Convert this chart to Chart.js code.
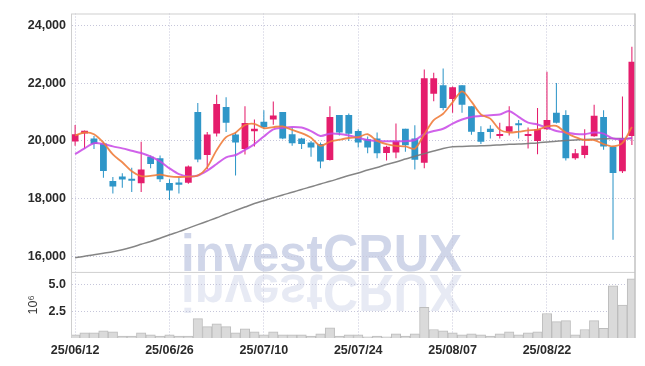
<!DOCTYPE html>
<html>
<head>
<meta charset="utf-8">
<script src="https://cdn.jsdelivr.net/npm/chart.js@4/dist/chart.umd.min.js"></script>
<style>
    html, body { margin: 0; padding: 0; background: #fff; }
    #wrap { width: 645px; height: 366px; position: relative; }
</style>
</head>
<body>
<div id="wrap"><canvas id="stockChart"></canvas></div>
<script>
// Trading days (yy/mm/dd)
const dates = [
    '25/06/12', '25/06/13', '25/06/16', '25/06/17', '25/06/18', '25/06/19', '25/06/20', '25/06/23', '25/06/24', '25/06/25',
    '25/06/26', '25/06/27', '25/06/30', '25/07/01', '25/07/02', '25/07/03', '25/07/04', '25/07/07', '25/07/08', '25/07/09',
    '25/07/10', '25/07/11', '25/07/14', '25/07/15', '25/07/16', '25/07/17', '25/07/18', '25/07/21', '25/07/22', '25/07/23',
    '25/07/24', '25/07/25', '25/07/28', '25/07/29', '25/07/30', '25/07/31', '25/08/01', '25/08/04', '25/08/05', '25/08/06',
    '25/08/07', '25/08/08', '25/08/11', '25/08/12', '25/08/13', '25/08/14', '25/08/18', '25/08/19', '25/08/20', '25/08/21',
    '25/08/22', '25/08/25', '25/08/26', '25/08/27', '25/08/28', '25/08/29', '25/09/01', '25/09/02', '25/09/03', '25/09/04'
];

// OHLC prices
const openP = [
    19980, 20260, 20080, 19910, 18610, 18770, 18690, 18530, 19450, 19400,
    18540, 18560, 18550, 21000, 19510, 20260, 21170, 20220, 19720, 20330,
    20660, 20740, 21000, 20230, 20080, 19940, 19890, 19340, 20900, 20900,
    20340, 20060, 20080, 19580, 19600, 20420, 20080, 19240, 21630, 21930,
    21450, 21930, 21200, 20310, 20420, 20170, 20320, 20570, 20170, 20000,
    20400, 20970, 20900, 19400, 19510, 20160, 20830, 19800, 18950, 20170
];
const highP = [
    20550, 20360, 20170, 19970, 18750, 18880, 19070, 19970, 19490, 19490,
    18670, 18750, 19150, 21310, 20310, 21600, 21510, 20310, 21200, 20740,
    21060, 21360, 21000, 20460, 20110, 20000, 19940, 21200, 20900, 20950,
    20400, 20150, 20290, 19830, 20600, 20420, 20540, 22470, 22360, 22510,
    21880, 21930, 21200, 20510, 20540, 20630, 21200, 20720, 20460, 21140,
    22390, 22000, 21060, 19720, 20400, 21250, 21060, 19830, 21540, 23260
];
const lowP = [
    19830, 19740, 19720, 18720, 18180, 18380, 18230, 18230, 19050, 18580,
    17950, 18180, 18520, 19260, 19030, 20150, 20310, 18800, 19530, 19810,
    20400, 20560, 20060, 19830, 19720, 19450, 19050, 19320, 20190, 20000,
    19770, 19570, 19400, 19320, 19400, 19620, 19010, 19050, 21370, 21060,
    20970, 20970, 20210, 19890, 20080, 20080, 20190, 20080, 19740, 19540,
    20380, 20600, 19320, 19350, 19400, 20140, 19690, 16580, 18890, 19860
];
const closeP = [
    20230, 20350, 19890, 18960, 18420, 18660, 18620, 19010, 19200, 18670,
    18280, 18480, 19110, 19360, 20220, 21280, 20630, 19940, 20620, 20420,
    20480, 20880, 20080, 19920, 19890, 19770, 19290, 20830, 20290, 20250,
    19940, 19770, 19570, 19800, 20000, 19850, 19350, 22170, 22170, 21140,
    21860, 21250, 20320, 19970, 20310, 20230, 20510, 20540, 20230, 20400,
    20720, 20630, 19400, 19570, 19830, 20870, 19810, 18890, 20090, 22740
];

// Moving averages
const ma5 = [
    20190, 20290, 20230, 19940, 19530, 19260, 18950, 18780, 18790, 18830,
    18770, 18750, 18760, 18800, 19090, 19680, 20130, 20285, 20550, 20590,
    20440, 20480, 20500, 20380, 20270, 20110, 19830, 19970, 20040, 20100,
    20130, 20230, 20000, 19890, 19830, 19810, 19730, 20230, 20720, 20940,
    21335, 21715, 21360, 20920, 20770, 20390, 20290, 20320, 20365, 20390,
    20500, 20520, 20280, 20130, 20030, 20030, 19890, 19810, 19930, 20480
];
const ma20 = [
    19540, 19740, 19920, 19890, 19810, 19740, 19660, 19580, 19460, 19290,
    19050, 18850, 18770, 18800, 18970, 19200, 19430, 19510, 19690, 19890,
    20150, 20400, 20450, 20480, 20460, 20340, 20170, 20250, 20240, 20190,
    20110, 20030, 20000, 19990, 19990, 19990, 20030, 20230, 20340, 20420,
    20600, 20740, 20830, 20860, 20890, 20910, 21030, 20830, 20630, 20570,
    20460, 20340, 20290, 20240, 20230, 20290, 20250, 20080, 20060, 20100
];
const maLong = [
    15950, 16010, 16060, 16110, 16160, 16230, 16320, 16420, 16520, 16630,
    16750, 16860, 16980, 17100, 17220, 17340, 17470, 17590, 17710, 17830,
    17930, 18030, 18130, 18220, 18320, 18410, 18510, 18600, 18700, 18800,
    18890, 18990, 19080, 19180, 19270, 19370, 19470, 19560, 19650, 19740,
    19800, 19810, 19820, 19830, 19840, 19860, 19880, 19890, 19910, 19930,
    19960, 19990, 20010, 20030, 20050, 20060, 20070, 20080, 20080, 20090
];

// Volume (millions of shares)
const volume = [
    0.29, 0.48, 0.48, 0.67, 0.58, 0.19, 0.19, 0.48, 0.29, 0.19,
    0.29, 0.19, 0.19, 1.82, 1.06, 1.34, 1.06, 0.48, 0.86, 0.58,
    0.29, 0.58, 0.29, 0.29, 0.29, 0.19, 0.38, 0.96, 0.19, 0.29,
    0.29, 0.10, 0.19, 0.10, 0.38, 0.19, 0.38, 2.88, 0.80, 0.67,
    0.48, 0.29, 0.38, 0.29, 0.19, 0.38, 0.58, 0.29, 0.48, 0.58,
    2.30, 1.54, 1.63, 0.29, 0.80, 1.63, 0.90, 4.90, 3.10, 5.55
];

const priceTicks = [16000, 18000, 20000, 22000, 24000];
const volumeTicks = [2.5, 5.0];
const dateTickIdx = [0, 10, 20, 30, 40, 50];

const UP = '#e51d6c';
const DOWN = '#2f96c8';
const GRID = '#c6c6da';
const FRAME = '#cfcfcf';

Chart.defaults.font.family = '"Liberation Sans", Arial, sans-serif';
Chart.defaults.font.size = 12.5;
Chart.defaults.font.weight = 'bold';
Chart.defaults.color = '#2a2a2a';

const candleColor = ctx => closeP[ctx.dataIndex] >= openP[ctx.dataIndex] ? UP : DOWN;

// Watermark with reflection, drawn under the grid
const watermark = {
    id: 'watermark',
    beforeDraw(chart) {
        const ctx = chart.ctx;
        ctx.save();
        ctx.font = 'bold 52px "Liberation Sans", Arial, sans-serif';
        ctx.textBaseline = 'alphabetic';
        ctx.fillStyle = '#d0d6e9';
        ctx.fillText('investCRUX', 181, 271, 281);
        ctx.translate(0, 546);
        ctx.scale(1, -1);
        ctx.globalAlpha = 0.5;
        ctx.fillText('investCRUX', 181, 271, 281);
        ctx.restore();
    }
};

// Panel frame lines
const frame = {
    id: 'frame',
    afterDraw(chart) {
        const {ctx, chartArea} = chart;
        const sep = chart.scales.yVol.top;
        ctx.save();
        ctx.strokeStyle = FRAME;
        ctx.lineWidth = 1;
        ctx.beginPath();
        ctx.moveTo(chartArea.left, chartArea.top + 0.5);
        ctx.lineTo(chartArea.right, chartArea.top + 0.5);
        ctx.moveTo(chartArea.left, sep + 0.5);
        ctx.lineTo(chartArea.right, sep + 0.5);
        ctx.moveTo(chartArea.left - 0.5, chartArea.top);
        ctx.lineTo(chartArea.left - 0.5, chartArea.bottom);
        ctx.stroke();
        ctx.strokeStyle = '#c2c2c2';
        ctx.lineWidth = 1.5;
        ctx.beginPath();
        ctx.moveTo(chartArea.right, chartArea.top);
        ctx.lineTo(chartArea.right, chartArea.bottom);
        ctx.stroke();
        ctx.restore();
    }
};

const xy = arr => arr.map((v, i) => ({x: i, y: v}));

new Chart(document.getElementById('stockChart'), {
    type: 'bar',
    data: {
        datasets: [
            {
                type: 'line', label: 'MA5', data: xy(ma5), yAxisID: 'y', order: 0,
                borderColor: 'rgba(240,125,60,0.9)', borderWidth: 1.8, pointRadius: 0, tension: 0.3
            },
            {
                type: 'line', label: 'MA20', data: xy(ma20), yAxisID: 'y', order: 0,
                borderColor: 'rgba(200,70,230,0.85)', borderWidth: 2, pointRadius: 0, tension: 0.3
            },
            {
                type: 'line', label: 'MA60', data: xy(maLong), yAxisID: 'y', order: 0,
                borderColor: 'rgba(120,120,120,0.9)', borderWidth: 1.5, pointRadius: 0, tension: 0.3
            },
            {
                label: 'Body', data: openP.map((o, i) => ({x: i, y: [o, closeP[i]]})), yAxisID: 'y', order: 1,
                backgroundColor: candleColor, grouped: false, categoryPercentage: 1, barPercentage: 0.72, minBarLength: 2
            },
            {
                label: 'Wick', data: lowP.map((l, i) => ({x: i, y: [l, highP[i]]})), yAxisID: 'y', order: 2,
                backgroundColor: candleColor, grouped: false, categoryPercentage: 1, barPercentage: 0.11
            },
            {
                label: 'Volume', data: xy(volume), yAxisID: 'yVol', order: 3,
                backgroundColor: '#dadada', borderColor: '#bdbdbd', borderWidth: 1,
                grouped: false, categoryPercentage: 1, barPercentage: 1
            }
        ]
    },
    options: {
        responsive: true,
        maintainAspectRatio: false,
        animation: false,
        layout: { padding: { top: 9, right: 10, left: 12, bottom: 0 } },
        plugins: {
            legend: { display: false },
            tooltip: { enabled: false }
        },
        scales: {
            x: {
                type: 'linear', min: -0.33, max: 59.33, offset: false,
                afterBuildTicks: ax => { ax.ticks = dateTickIdx.map(v => ({value: v})); },
                afterFit: ax => { ax.height = 28; },
                ticks: { callback: v => dates[v], maxRotation: 0, autoSkip: false, padding: 5 },
                grid: { color: GRID, drawTicks: false, offset: false },
                border: { display: false, dash: [1, 2] }
            },
            yVol: {
                type: 'linear', position: 'left', stack: 'panes', stackWeight: 67,
                min: 0, max: 6.2,
                afterBuildTicks: ax => { ax.ticks = volumeTicks.map(v => ({value: v})); },
                afterFit: ax => { ax.width = 60; },
                ticks: { callback: v => v.toFixed(1), padding: 6 },
                title: { display: true, text: '10\u2076', color: '#333', font: { size: 12.5, weight: 'normal' }, padding: { top: 14, bottom: 0 } },
                grid: { color: GRID, drawTicks: false },
                border: { display: false, dash: [1, 2] }
            },
            y: {
                type: 'linear', position: 'left', stack: 'panes', stackWeight: 262,
                min: 15464, max: 24410,
                afterBuildTicks: ax => { ax.ticks = priceTicks.map(v => ({value: v})); },
                afterFit: ax => { ax.width = 60; },
                ticks: { callback: v => v.toLocaleString('en-US'), padding: 6 },
                grid: { color: GRID, drawTicks: false },
                border: { display: false, dash: [1, 2] }
            }
        }
    },
    plugins: [watermark, frame]
});
</script>
</body>
</html>
